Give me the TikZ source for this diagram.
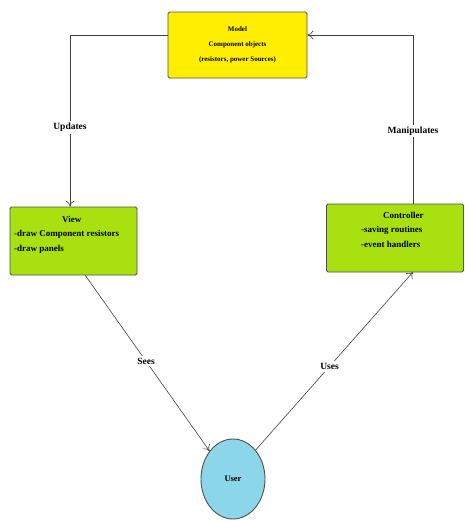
\documentclass[tikz,border=0pt]{standalone}
\usepackage{fontspec}
\setmainfont{Liberation Serif}
\usetikzlibrary{shapes.geometric,arrows.meta}
\definecolor{modelY}{HTML}{FFEE00}
\definecolor{limeG}{HTML}{A8E010}
\definecolor{userB}{HTML}{8CD6EA}
\definecolor{edgeC}{HTML}{505050}
\tikzset{
  boxnode/.style={draw=edgeC, line width=0.9pt, rounded corners=1.5pt, inner sep=0pt},
  boxtext/.style={align=left, anchor=north west, inner sep=0pt, font=\fontsize{9}{14.5}\selectfont\bfseries},
  conn/.style={draw=black!75, line width=0.6pt, -{To[length=6pt,width=9pt]}},
  lbl/.style={fill=white, font=\fontsize{9.5}{11}\selectfont\bfseries, inner sep=2pt}
}
\begin{document}
\begin{tikzpicture}[x=1pt,y=-1pt]
\useasboundingbox (0,0) rectangle (464,522);
\node[boxnode, fill=modelY, minimum width=139pt, minimum height=66pt, align=center, font=\fontsize{7}{15}\selectfont\bfseries] (model) at (237.5,45) {Model\\Component objects\\(resistors, power Sources)};
\node[boxnode, fill=limeG, minimum width=127pt, minimum height=68pt] (view) at (73.5,241) {};
\node[boxtext] (viewt) at (14,216) {\hspace*{48pt}View\\-draw Component resistors\\-draw panels};
\node[boxnode, fill=limeG, minimum width=137pt, minimum height=68pt] (ctrl) at (395,238) {};
\node[boxtext] (ctrlt) at (361,212) {\hspace*{22pt}Controller\\-saving routines\\-event handlers};
\node[ellipse, draw=edgeC, line width=0.9pt, fill=userB, minimum width=64pt, minimum height=80pt, inner sep=0pt, font=\fontsize{8.5}{9}\selectfont\bfseries] (user) at (233,479) {User};
\coordinate (c1) at (70,35);
\coordinate (c2) at (413,35);
\draw[conn] (model.west |- c1) -- (c1) -- (c1 |- view.north) node[lbl, pos=0.54] {Updates};
\draw[conn] (c2 |- ctrl.north) -- (c2) node[lbl, pos=0.43] {Manipulates} -- (model.east |- c2);
\draw[conn] (85,275) -- (user.130) node[lbl, pos=0.49] {Sees};
\draw[conn] (user.52) -- (413,272) node[lbl, pos=0.47] {Uses};
\end{tikzpicture}
\end{document}
